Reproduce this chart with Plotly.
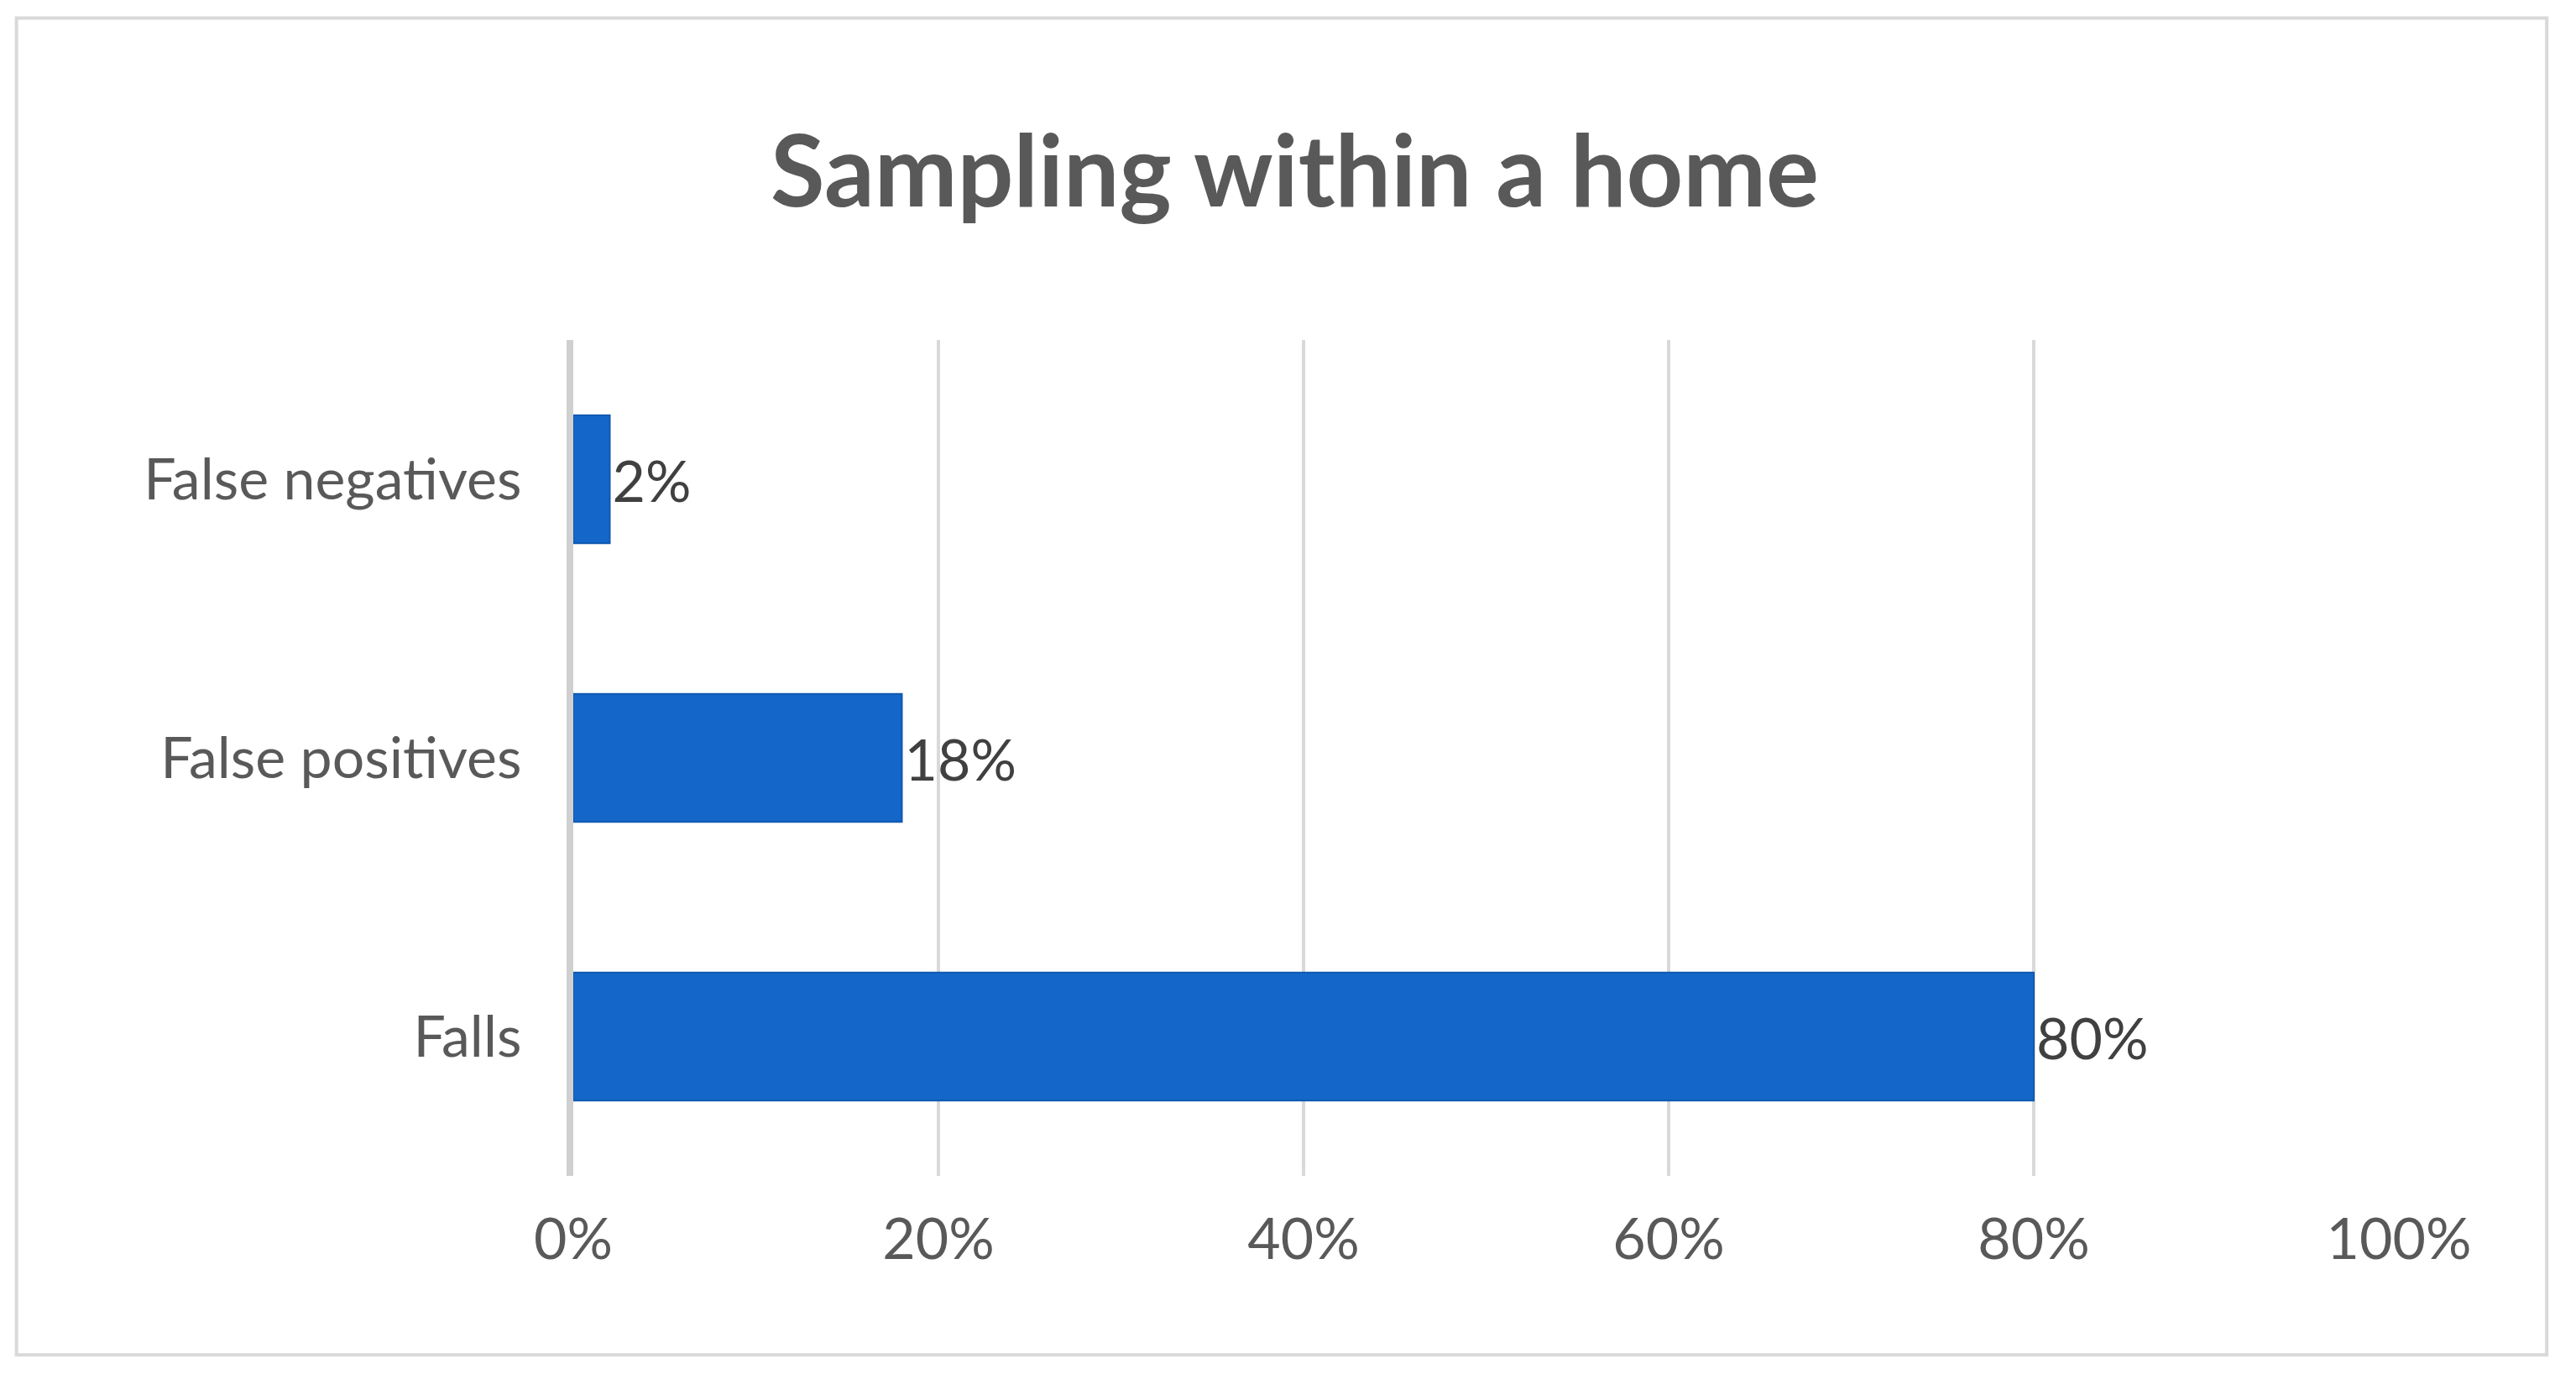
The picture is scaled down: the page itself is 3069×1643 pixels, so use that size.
import plotly.graph_objects as go

categories = ["Falls", "False positives", "False negatives"]
values = [80, 18, 2]
tick_vals = [0, 20, 40, 60, 80, 100]
tick_text = ["0%", "20%", "40%", "60%", "80%", "100%"]

fig = go.Figure(go.Bar(
    y=categories, x=values, orientation="h",
    marker=dict(color="#1467C9", line=dict(color="#0E58B0", width=2)),
    width=0.46,
    text=[f"{v}%" for v in values], textposition="outside",
    textfont=dict(size=68, color="#404040", family="Lato"),
    cliponaxis=False,
))

fig.update_layout(
    width=3069, height=1643,
    paper_bgcolor="white", plot_bgcolor="white",
    margin=dict(l=675, r=219, t=397, b=250),
    title=dict(text="<b>Sampling within a home</b>", x=0.5, xanchor="center",
               y=0.88, yanchor="middle",
               font=dict(size=118, color="#595959", family="Lato")),
    font=dict(family="Lato", color="#595959"),
    showlegend=False,
    xaxis=dict(range=[0, 100], tickvals=tick_vals, ticktext=tick_text,
               showgrid=True, gridcolor="#D9D9D9", gridwidth=4,
               zeroline=False, tickfont=dict(size=68, color="#595959"),
               ticks="", ticklabelstandoff=30),
    yaxis=dict(showgrid=False, zeroline=False, tickfont=dict(size=68, color="#595959"),
               ticks="", ticklabelstandoff=40, showline=True, linecolor="#D0D0D0", linewidth=8),
    shapes=[dict(type="rect", xref="paper", yref="paper",
                 x0=-0.305, x1=1.081, y0=-0.214, y1=1.385,
                 line=dict(color="#D9D9D9", width=4))],
)

fig.write_html("out.html")
